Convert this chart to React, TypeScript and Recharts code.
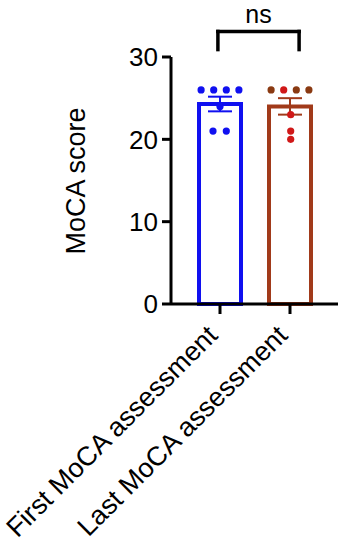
import React from 'react';
import {
  ComposedChart,
  Bar,
  Cell,
  ErrorBar,
  Scatter,
  XAxis,
  YAxis,
  ReferenceLine
} from 'recharts';

// groups and summary values
const groups = ['First MoCA assessment', 'Last MoCA assessment'];
const means = [24.29, 24.0];
const sems = [0.89, 1.0];

// individual scores, with a small horizontal jitter (in group units)
const firstScores = [26, 26, 26, 26, 24, 21, 21];
const firstJitter = [-0.27, -0.09, 0.09, 0.27, 0, -0.1, 0.09];
const lastScores = [26, 26, 26, 26, 23, 21, 20];
const lastJitter = [-0.27, -0.09, 0.09, 0.27, 0.01, 0.01, 0.01];
const lastDotKinds = ['brown', 'red', 'brown', 'brown', 'red', 'red', 'red'];

const yTicks = [0, 10, 20, 30];

// significance bracket
const bracketX = [0.97, 2.13];
const bracketY = [30.9, 33.1];
const bracketText = 'ns';

const BLUE = '#1010f0';
const BROWN = '#a13a1a';
const DOT_BROWN = '#8a3a12';
const DOT_RED = '#d01818';
const FONT = '"Liberation Sans", Arial, sans-serif';

const barData = groups.map((name, i) => ({
  name,
  mean: means[i],
  semFirst: i === 0 ? sems[i] : undefined,
  semLast: i === 1 ? sems[i] : undefined
}));

const firstPoints = firstScores.map((y, i) => ({ x: 1 + firstJitter[i], y }));
const lastPoints = lastScores.map((y, i) => ({ x: 2 + lastJitter[i], y }));

const Dot = (props: any) => (
  <circle cx={props.cx} cy={props.cy} r={3.6} fill={props.fill} />
);

const XTick = (props: any) => {
  const { x, y, payload } = props;
  const px = x - 1;
  const py = y + 21;
  return (
    <text
      x={px}
      y={py}
      transform={`rotate(-45, ${px}, ${py})`}
      textAnchor="end"
      fontSize={27}
      fontFamily={FONT}
      fill="#000"
    >
      {payload.value}
    </text>
  );
};

const NsLabel = (props: any) => {
  const vb = props.viewBox || {};
  const cx = (vb.x || 0) + (vb.width || 0) / 2;
  return (
    <text x={cx} y={23} textAnchor="middle" fontSize={25} fontFamily={FONT} fill="#000">
      {bracketText}
    </text>
  );
};

const App: React.FC = () => {
  return (
    <div style={{ position: 'absolute', left: 0, top: 0, width: 347, height: 550, background: '#fff' }}>
      <ComposedChart
        width={347}
        height={550}
        data={barData}
        margin={{ top: 57, right: 9, left: 0, bottom: 0 }}
      >
        <XAxis
          xAxisId="cat"
          dataKey="name"
          type="category"
          padding={{ left: 14, right: 13 }}
          height={246}
          interval={0}
          tickSize={10}
          tickLine={{ stroke: '#000', strokeWidth: 3 }}
          axisLine={{ stroke: '#000', strokeWidth: 3 }}
          tick={<XTick />}
        />
        <XAxis
          xAxisId="num"
          dataKey="x"
          type="number"
          domain={[0.5, 2.5]}
          padding={{ left: 14, right: 13 }}
          allowDataOverflow
          hide
        />
        <YAxis
          domain={[0, 30]}
          ticks={yTicks}
          width={171}
          tickSize={9}
          tickMargin={4}
          tickLine={{ stroke: '#000', strokeWidth: 3 }}
          axisLine={{ stroke: '#000', strokeWidth: 3 }}
          tick={{ fill: '#000', fontSize: 26, fontFamily: FONT }}
          label={{
            content: () => (
              <text
                x={85}
                y={181}
                transform="rotate(-90, 85, 181)"
                textAnchor="middle"
                fontSize={27}
                fontFamily={FONT}
                fill="#000"
              >
                MoCA score
              </text>
            )
          }}
        />
        <Bar
          xAxisId="cat"
          dataKey="mean"
          barSize={42}
          fill="#fff"
          strokeWidth={4}
          isAnimationActive={false}
        >
          <Cell stroke={BLUE} />
          <Cell stroke={BROWN} />
          <ErrorBar dataKey="semFirst" width={12} strokeWidth={2} stroke={BLUE} direction="y" />
          <ErrorBar dataKey="semLast" width={12} strokeWidth={2} stroke={BROWN} direction="y" />
        </Bar>
        <Scatter
          xAxisId="num"
          data={firstPoints}
          dataKey="y"
          fill={BLUE}
          shape={<Dot />}
          isAnimationActive={false}
        />
        <Scatter
          xAxisId="num"
          data={lastPoints}
          dataKey="y"
          fill={DOT_RED}
          shape={<Dot />}
          isAnimationActive={false}
        >
          {lastDotKinds.map((k, i) => (
            <Cell key={`c-${i}`} fill={k === 'brown' ? DOT_BROWN : DOT_RED} />
          ))}
        </Scatter>
        <ReferenceLine
          xAxisId="num"
          segment={[
            { x: bracketX[0], y: bracketY[1] },
            { x: bracketX[1], y: bracketY[1] }
          ]}
          stroke="#000"
          strokeWidth={3.5}
          strokeLinecap="square"
          ifOverflow="visible"
          label={<NsLabel />}
        />
        <ReferenceLine
          xAxisId="num"
          segment={[
            { x: bracketX[0], y: bracketY[0] },
            { x: bracketX[0], y: bracketY[1] }
          ]}
          stroke="#000"
          strokeWidth={3.5}
          strokeLinecap="square"
          ifOverflow="visible"
        />
        <ReferenceLine
          xAxisId="num"
          segment={[
            { x: bracketX[1], y: bracketY[0] },
            { x: bracketX[1], y: bracketY[1] }
          ]}
          stroke="#000"
          strokeWidth={3.5}
          strokeLinecap="square"
          ifOverflow="visible"
        />
      </ComposedChart>
    </div>
  );
};

export default App;
